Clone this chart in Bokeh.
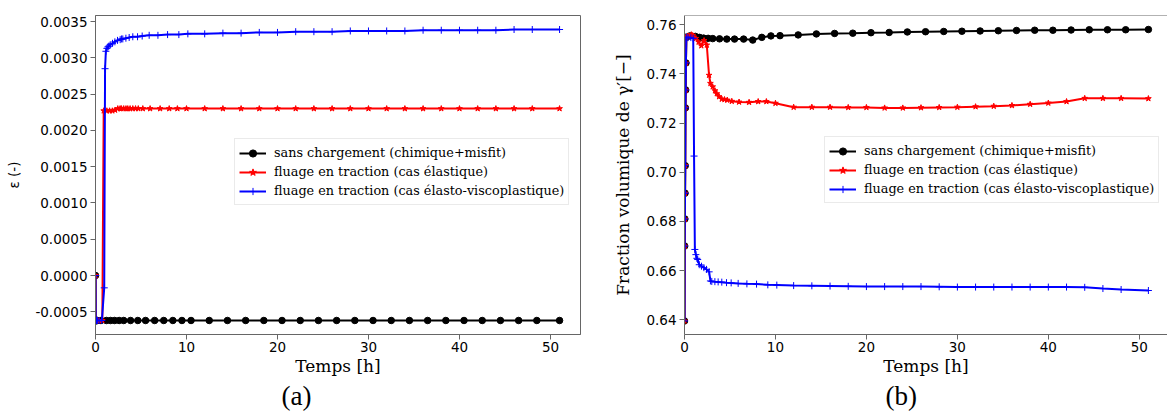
from bokeh.plotting import figure
from bokeh.layouts import row
from bokeh.models import (Range1d, FixedTicker, NumeralTickFormatter, Legend,
                          LegendItem, Title, Span)
from bokeh.embed import file_html
from bokeh.resources import INLINE

# ---------------- data ----------------
labels = ["sans chargement (chimique+misfit)",
          "fluage en traction (cas élastique)",
          "fluage en traction (cas élasto-viscoplastique)"]

t_black = [0.0, 0.02, 0.04, 0.06, 0.08, 0.10, 0.13, 0.16, 0.20,
           0.6, 1.2, 1.65, 2.1, 2.6, 3.1, 3.85, 4.65, 5.5, 6.5, 7.5, 8.5, 9.5, 10.5,
           12.5, 14.5, 16.5, 18.5, 20.5, 22.5, 24.5, 26.5, 28.5, 30.5, 32.5, 34.5,
           36.5, 38.5, 40.5, 42.5, 44.5, 46.5, 48.5, 51.0]
eps_black = [0.0, -0.00062, -0.00062, -0.00062, -0.00062, -0.00062, -0.00062, -0.00062, -0.00062,
             -0.00062, -0.00062, -0.00062, -0.00062, -0.00062, -0.00062, -0.00062, -0.00062,
             -0.00062, -0.00062, -0.00062, -0.00062, -0.00062, -0.00062,
             -0.00062, -0.00062, -0.00062, -0.00062, -0.00062, -0.00062, -0.00062, -0.00062,
             -0.00062, -0.00062, -0.00062, -0.00062, -0.00062, -0.00062, -0.00062, -0.00062,
             -0.00062, -0.00062, -0.00062, -0.00062]
gam_black = [0.6395, 0.6700, 0.6810, 0.6915, 0.7027, 0.7262, 0.7335, 0.7445, 0.7550,
             0.7555, 0.7553, 0.7549, 0.7546, 0.7545, 0.7544, 0.7543, 0.7542, 0.7542, 0.7542,
             0.7538, 0.7549, 0.7555, 0.7556,
             0.7559, 0.7563, 0.7565, 0.7566, 0.7568, 0.7569, 0.7571, 0.7572, 0.7573, 0.7574,
             0.7575, 0.7576, 0.7577, 0.7578, 0.7578, 0.7579, 0.7580, 0.7580, 0.7580,
             0.7581]

t_red = [0.0, 0.02, 0.04, 0.06, 0.08, 0.10, 0.13, 0.16, 0.20,
         0.4, 0.75, 0.9, 1.25, 1.55, 1.85, 2.15, 2.45, 2.7, 2.85, 3.1, 3.35, 3.55, 3.8,
         4.1, 4.4, 4.7, 5.2, 6.0, 7.1, 8.1, 9.0, 10.0,
         12, 14, 16, 18, 20, 22, 24, 26, 28, 30, 32, 34, 36, 38, 40, 42, 44, 46, 48,
         51]
eps_red = [0.0, -0.00062, -0.00062, -0.00062, -0.00062, -0.00062, -0.00062, -0.00062, -0.00062,
           -0.00062, -0.00062, 0.00227, 0.00227, 0.00227, 0.00227, 0.00228, 0.00230,
           0.00230, 0.00230, 0.00230, 0.00230, 0.00230, 0.00230, 0.00230, 0.00230, 0.00230,
           0.00230, 0.00230, 0.00230, 0.00230, 0.00230, 0.00230,
           0.00230, 0.00230, 0.00230, 0.00230, 0.00230, 0.00230, 0.00230, 0.00230, 0.00230,
           0.00230, 0.00230, 0.00230, 0.00230, 0.00230, 0.00230, 0.00230, 0.00230, 0.00230,
           0.00230,
           0.00230]
gam_red = [0.6395, 0.6700, 0.6810, 0.6915, 0.7027, 0.7262, 0.7335, 0.7445, 0.7550,
           0.7555, 0.7560, 0.7557, 0.7545, 0.7530, 0.7515, 0.7536, 0.7518, 0.7395, 0.7362,
           0.7348, 0.7332, 0.7320, 0.7308, 0.7298, 0.7296, 0.7294, 0.7289, 0.7286, 0.7285,
           0.7288, 0.7288, 0.7281,
           0.7265, 0.7265, 0.7265, 0.7264, 0.7264, 0.7262, 0.7262, 0.7263, 0.7264, 0.7265,
           0.7267, 0.7269, 0.7272, 0.7277, 0.7282, 0.7288, 0.7301, 0.7301, 0.7301,
           0.7300]

t_blue = [0.0, 0.02, 0.04, 0.06, 0.08, 0.10, 0.13, 0.16, 0.20,
          0.4, 0.7, 0.96, 1.05, 1.14, 1.25, 1.36, 1.45, 1.62, 1.87, 2.13, 2.42, 2.71, 2.85,
          3.0, 3.34, 3.7, 4.1, 4.62, 5.13, 5.9, 6.86, 7.92, 9.16, 10.15,
          12, 14, 16, 18, 20, 22, 24, 26, 28, 30, 32, 34, 36, 38, 40, 42, 44, 46, 48,
          51]
eps_blue = [0.0, -0.00062, -0.00062, -0.00062, -0.00062, -0.00062, -0.00062, -0.00062, -0.00062,
            -0.00062, -0.00062, -0.00017, 0.00285, 0.00309, 0.00313, 0.00315, 0.00316, 0.00318,
            0.00320, 0.00322, 0.00324, 0.00325, 0.00326, 0.00326, 0.00327, 0.00328, 0.00329,
            0.00329, 0.00330, 0.00331, 0.00331, 0.00332, 0.00332, 0.00333,
            0.00333, 0.00334, 0.00334, 0.00335, 0.00335, 0.00336, 0.00336, 0.00336, 0.00337,
            0.00337, 0.00337, 0.00337, 0.00338, 0.00338, 0.00338, 0.00338, 0.00338, 0.00339,
            0.00339,
            0.00339]
gam_blue = [0.6395, 0.6700, 0.6810, 0.6915, 0.7027, 0.7262, 0.7335, 0.7445, 0.7550,
            0.7548, 0.7548, 0.7545, 0.7066, 0.6686, 0.6665, 0.6650, 0.6645, 0.6624, 0.6618,
            0.6612, 0.6605, 0.6595, 0.6558, 0.6556, 0.6555, 0.6554, 0.6553, 0.6551, 0.6550,
            0.6548, 0.6546, 0.6545, 0.6542, 0.6541,
            0.6539, 0.6538, 0.6537, 0.6536, 0.6535, 0.6535, 0.6535, 0.6535, 0.6534, 0.6533,
            0.6533, 0.6533, 0.6533, 0.6533, 0.6533, 0.6533, 0.6532, 0.6527, 0.6523,
            0.6519]

x_ticks = [0, 10, 20, 30, 40, 50]
eps_ticks = [-0.0005, 0.0, 0.0005, 0.0010, 0.0015, 0.0020, 0.0025, 0.0030, 0.0035]
gam_ticks = [0.64, 0.66, 0.68, 0.70, 0.72, 0.74, 0.76]

AX = "#666666"
SANS = "DejaVu Sans"
SERIF = "DejaVu Serif"


def style(p, yticks, yfmt, ylabel, ylabel_font, ylabel_size):
    p.xgrid.grid_line_color = None
    p.ygrid.grid_line_color = None
    p.xaxis.ticker = FixedTicker(ticks=x_ticks)
    p.yaxis.ticker = FixedTicker(ticks=yticks)
    p.yaxis.formatter = NumeralTickFormatter(format=yfmt)
    for ax in (p.xaxis[0], p.yaxis[0]):
        ax.axis_line_color = AX
        ax.major_tick_line_color = AX
        ax.major_tick_out = 5
        ax.major_tick_in = 0
        ax.minor_tick_line_color = None
        ax.major_label_text_font = SANS
        ax.major_label_text_font_size = "13.5px"
        ax.major_label_text_color = "#000000"
        ax.major_label_standoff = 3
        ax.axis_label_text_font_style = "normal"
        ax.axis_label_text_color = "#000000"
    p.xaxis.major_label_standoff = 2
    p.xaxis.axis_label = "Temps [h]"
    p.xaxis.axis_label_text_font = SERIF
    p.xaxis.axis_label_text_font_size = "17px"
    p.xaxis.axis_label_standoff = 1
    p.yaxis.axis_label = ylabel
    p.yaxis.axis_label_text_font = ylabel_font
    p.yaxis.axis_label_text_font_size = ylabel_size
    p.yaxis.axis_label_standoff = 10


def draw(p, ys, loc):
    items = []
    specs = [(t_black, ys[0], "black", "circle", 6.5, 1),
             (t_red, ys[1], "red", "star", 6, 1),
             (t_blue, ys[2], "blue", "cross", 7, 1)]
    for (t, y, col, mk, sz, lw), lab in zip(specs, labels):
        l = p.line(t, y, line_color=col, line_width=2)
        s = p.scatter(t, y, marker=mk, size=sz, fill_color=col, line_color=col, line_width=lw)
        items.append(LegendItem(label=lab, renderers=[l, s]))
    leg = Legend(items=items, location=loc)
    leg.label_text_font = SERIF
    leg.label_text_font_size = "12.8px"
    leg.label_text_color = "#000000"
    leg.glyph_width = 27
    leg.glyph_height = 18
    leg.label_height = 19
    leg.label_standoff = 8
    leg.spacing = 0
    leg.padding = 4
    leg.margin = 0
    leg.border_line_color = "#d5d5d5"
    leg.border_line_width = 1
    leg.background_fill_alpha = 0.85
    p.add_layout(leg)


def caption(text, offset):
    return Title(text=text, align="left", offset=offset, standoff=0,
                 text_font="Liberation Serif", text_font_size="27px",
                 text_font_style="normal", text_color="#000000")


# ---------------- panel (a) ----------------
pa = figure(width=610, height=419, output_backend="svg", toolbar_location=None,
            x_range=Range1d(0, 53.3), y_range=Range1d(-0.000813, 0.003583),
            min_border_left=95, min_border_right=30, min_border_top=15, min_border_bottom=85)
pa.outline_line_color = AX
pa.outline_line_width = 1
style(pa, eps_ticks, "0.0000", "ε (-)", SANS, "13.5px")
draw(pa, [eps_black, eps_red, eps_blue], (139, 129))
pa.add_layout(caption("(a)", 186), "below")

# ---------------- panel (b) ----------------
pb = figure(width=557, height=419, output_backend="svg", toolbar_location=None,
            x_range=Range1d(0, 53.1), y_range=Range1d(0.6340, 0.7638),
            min_border_left=74, min_border_right=0, min_border_top=11, min_border_bottom=85)
pb.outline_line_color = None
pb.add_layout(Span(location=0.7638, dimension="width", line_color=AX, line_width=1))
style(pb, gam_ticks, "0.00", "Fraction volumique de γ′[−]", SERIF, "17px")
draw(pb, [gam_black, gam_red, gam_blue], (140, 131))
pb.add_layout(caption("(b)", 201), "below")

layout = row(pa, pb, spacing=0)
open("out.html", "w").write(file_html(layout, INLINE))
